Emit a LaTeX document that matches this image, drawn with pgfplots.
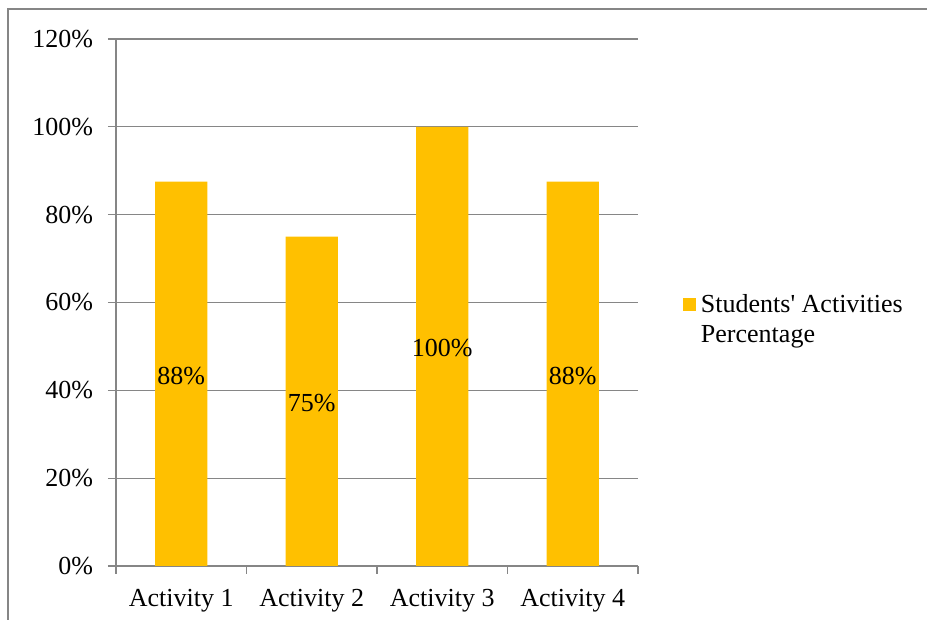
\documentclass[border=0pt]{standalone}
\usepackage{fontspec}
\setmainfont{Liberation Serif}
\usepackage{pgfplots}
\pgfplotsset{compat=1.18}
\definecolor{gold}{HTML}{FFC000}
\definecolor{gridgray}{HTML}{868686}
\newcommand{\bigfont}{\fontsize{26}{30}\selectfont}
\begin{document}
\bigfont
\begin{tikzpicture}
\useasboundingbox (0pt,0pt) rectangle (927pt,620pt);
\draw[gridgray, line width=1.5pt] (8pt,0pt) -- (8pt,611pt) -- (927pt,611pt);
\begin{axis}[
  at={(116pt,54pt)}, anchor=south west,
  scale only axis, width=522pt, height=527pt,
  xmin=-0.5, xmax=3.5, ymin=0, ymax=120,
  axis x line*=bottom, axis y line*=left,
  axis line style={gridgray, line width=1.2pt},
  ytick={0,20,...,120},
  yticklabels={0\%,20\%,40\%,60\%,80\%,100\%,120\%},
  xtick={0,1,2,3},
  xticklabels={Activity 1,Activity 2,Activity 3,Activity 4},
  minor xtick={-0.5,0.5,1.5,2.5,3.5},
  major x tick style={draw=none},
  minor x tick style={gridgray, line width=1.2pt},
  major y tick style={gridgray, line width=1.2pt},
  tick align=outside,
  major tick length=8pt, minor tick length=8pt,
  ymajorgrids,
  major grid style={gridgray, line width=1.2pt},
  tick label style={font=\bigfont},
  yticklabel style={xshift=-6pt},
  xticklabel style={yshift=-6pt},
  legend style={at={(axis description cs:1.0862,0.5205)}, anchor=north west,
    draw=none, fill=none, inner sep=0pt, outer sep=0pt,
    nodes={inner sep=0pt, outer sep=0pt}, font=\bigfont,
    cells={anchor=base west}, column sep=5pt},
]
\addplot[ybar, bar width=0.4, fill=gold, draw=none,
  legend image code/.code={\fill[gold] (0pt,2pt) rectangle (13pt,15pt);}]
  coordinates {(0,87.5) (1,75) (2,100) (3,87.5)};
\addlegendentry{\begin{tabular}[t]{@{}l@{}}Students\textquotesingle{} Activities\\Percentage\end{tabular}}
\addplot[draw=none, mark=none, forget plot, nodes near coords, point meta=explicit symbolic,
  every node near coord/.append style={anchor=center, yshift=-2pt, text=black, font=\bigfont}]
  coordinates {(0,43.75)[88\%] (1,37.5)[75\%] (2,50)[100\%] (3,43.75)[88\%]};
\end{axis}
\end{tikzpicture}
\end{document}
